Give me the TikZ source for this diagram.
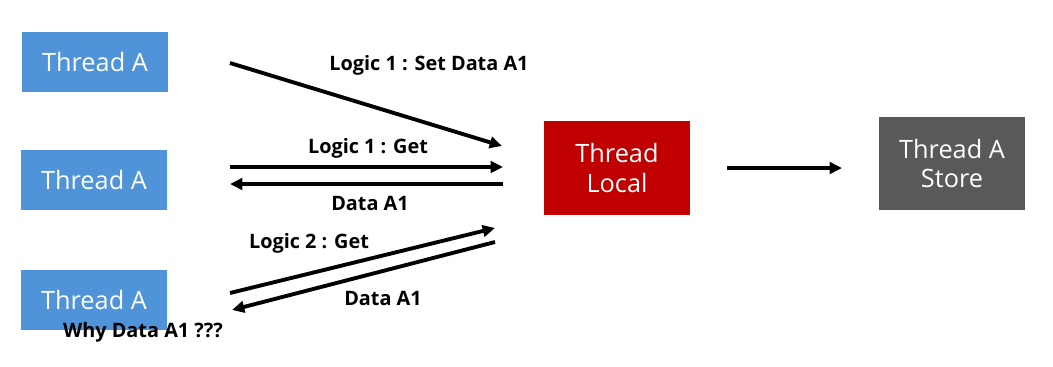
\documentclass[tikz,border=0pt]{standalone}
\usepackage{fontspec}
\setmainfont{Open Sans}
\usetikzlibrary{arrows.meta}

\definecolor{threadblue}{HTML}{4F94D9}
\definecolor{localred}{HTML}{C00000}
\definecolor{storegray}{HTML}{595959}

\begin{document}
\begin{tikzpicture}[x=0.02cm,y=-0.02cm,
    box/.style={text=white,minimum width=2.92cm,minimum height=1.2cm,
      inner sep=0pt,align=center,font=\fontsize{14.4}{17}\selectfont},
    flow/.style={line width=2.2pt,-{Triangle[length=7pt,width=6.5pt]}},
    lbl/.style={font=\fontsize{11.3}{13}\selectfont\bfseries,inner sep=0pt}]
  \useasboundingbox (0,0) rectangle (1053,366);
  \node[box,fill=threadblue] (threadA1) at (95,62) {Thread A};
  \node[box,fill=threadblue] (threadA2) at (94,180) {Thread A};
  \node[box,fill=threadblue] (threadA3) at (94,300) {Thread A};
  \node[box,fill=localred,minimum height=1.88cm] (local) at (617,168) {Thread\\Local};
  \node[box,fill=storegray,minimum height=1.86cm] (store) at (952,163.5) {Thread A\\Store};
  \coordinate (set1) at (230,63);
  \coordinate (set2) at (502,146);
  \coordinate (get1) at (230,167);
  \coordinate (get2) at (503,167);
  \coordinate (ret1) at (503,184);
  \coordinate (ret2) at (230,184);
  \coordinate (get3) at (230,293);
  \coordinate (get4) at (495,228);
  \coordinate (ret3) at (495,242);
  \coordinate (ret4) at (232,310);
  \coordinate (out1) at (727,168);
  \coordinate (out2) at (842,168);
  \draw[flow] (set1) -- (set2);
  \draw[flow] (get1) -- (get2);
  \draw[flow] (ret1) -- (ret2);
  \draw[flow] (get3) -- (get4);
  \draw[flow] (ret3) -- (ret4);
  \draw[flow] (out1) -- (out2);
  \node[lbl] (setlbl) at (429,65) {Logic 1 : Set Data A1};
  \node[lbl] (getlbl) at (368,148) {Logic 1 : Get};
  \node[lbl] (retlbl) at (370,203) {Data A1};
  \node[lbl] (get2lbl) at (309,243) {Logic 2 : Get};
  \node[lbl] (ret2lbl) at (383,298) {Data A1};
  \node[lbl] (whylbl) at (143,332) {Why Data A1 ???};
\end{tikzpicture}
\end{document}
